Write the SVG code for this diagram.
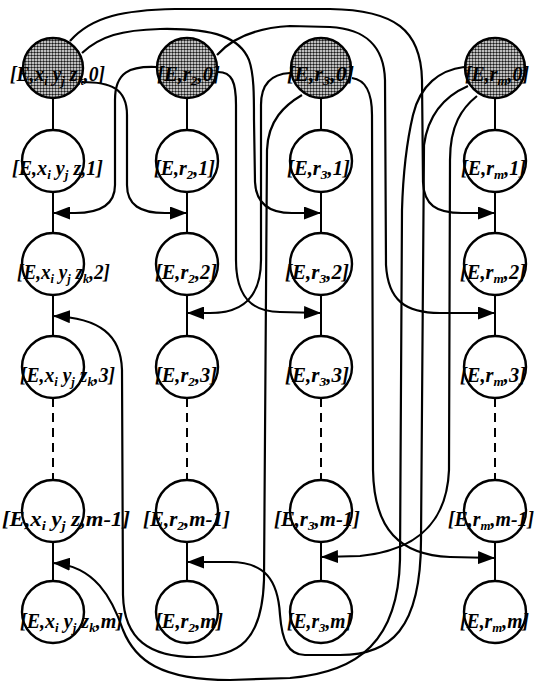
<svg xmlns="http://www.w3.org/2000/svg" width="537" height="682" viewBox="0 0 537 682">
  <style>
    .node { fill: #fff; stroke: #000; stroke-width: 2.4; }
    .seed { fill: url(#stipple); stroke: #000; stroke-width: 2.4; }
    .chain { stroke: #000; stroke-width: 2; fill: none; }
    .gap { stroke: #000; stroke-width: 2; fill: none; stroke-dasharray: 9 6; }
    .link { stroke: #000; stroke-width: 2.2; fill: none; marker-end: url(#ah); }
    text { font-family: "Liberation Serif", "DejaVu Serif", serif; font-style: italic; font-weight: bold; font-size: 20px; fill: #000; }
    .sb { font-size: 13px; }
  </style>
  <defs>
    <pattern id="stipple" width="3" height="3" patternUnits="userSpaceOnUse">
      <rect width="3" height="3" fill="#fff"/>
      <circle cx="1.5" cy="1.5" r="1.25" fill="#1a1a1a"/>
    </pattern>
    <marker id="ah" viewBox="0 0 17 13" refX="17" refY="6.5" markerWidth="17" markerHeight="13" markerUnits="userSpaceOnUse" orient="auto">
      <path d="M0,0 L17,6.5 L0,13 z" fill="#000"/>
    </marker>
  </defs>

  <!-- vertical chains of each column -->
  <g id="chains">
    <path class="chain" d="M53,99 V130 M53,192 V233 M53,295 V336 M53,542 V581"/>
    <path class="gap" d="M53,398 V480"/>
    <path class="chain" d="M187,99 V130 M187,192 V233 M187,295 V336 M187,542 V581"/>
    <path class="gap" d="M187,398 V480"/>
    <path class="chain" d="M321,99 V130 M321,192 V233 M321,295 V336 M321,542 V581"/>
    <path class="gap" d="M321,398 V480"/>
    <path class="chain" d="M495,99 V130 M495,192 V233 M495,295 V336 M495,542 V581"/>
    <path class="gap" d="M495,398 V480"/>
  </g>

  <!-- connectors from the seed nodes into other columns -->
  <g id="connectors">
    <!-- from [E,x y z,0] -->
    <path class="link" d="M70,41 C 92,16 125,10 175,9 L 330,9 C 395,10 421,30 422,80 L 423,182 C 424,205 436,213 462,213 L 495,213"/>
    <path class="link" d="M82,53 C 100,36 122,30 160,29 C 215,28 240,38 249,60 C 254,74 254,95 254,120 L 255,182 C 256,203 268,213 292,213 L 321,213"/>
    <path class="link" d="M82,82 C 110,82 127,88 127,115 L 127,185 C 127,205 140,213 165,213 L 187,213"/>
    <!-- from [E,r2,0] -->
    <path class="link" d="M156,67 C 130,66 115,72 115,100 L 115,185 C 115,205 100,213 75,213 L 53,213"/>
    <path class="link" d="M218,72 C 232,72 236,82 236,105 L 236,260 C 236,295 250,312 280,312 L 321,313"/>
    <path class="link" d="M217,55 C 232,38 255,28 290,26 L 330,27 C 365,29 384,45 385,80 L 386,265 C 388,300 405,313 440,313 L 495,313"/>
    <!-- from [E,r3,0] -->
    <path class="link" d="M290,73 C 270,74 261,85 261,105 L 261,260 C 261,300 240,313 210,313 L 187,313"/>
    <path class="link" d="M302,95 C 285,105 268,120 267,150 L 264,580 C 262,640 240,657 195,657 C 150,657 124,640 123,595 L 122,370 C 121,335 100,318 53,316"/>
    <path class="link" d="M352,78 C 366,80 372,92 372,115 L 373,470 C 374,530 400,555 450,557 L 495,558"/>
    <!-- from [E,rm,0] -->
    <path class="link" d="M464,67 C 440,70 420,85 413,115 C 406,145 403,175 402,210 L 400,560 C 398,640 360,672 290,678 L 230,680 C 160,680 135,660 123,630 C 112,598 95,566 53,563"/>
    <path class="link" d="M468,86 C 445,96 428,115 424,145 L 421,540 C 421,630 390,655 340,655 L 305,655 C 288,655 282,640 280,615 C 278,580 265,562 230,562 L 187,562"/>
    <path class="link" d="M477,96 C 462,108 450,125 450,160 L 449,470 C 447,520 420,550 360,556 L 321,557"/>
  </g>

  <!-- row 0 : seed nodes -->
  <g id="n-x-0"><circle class="seed" cx="53" cy="68" r="30"/>
    <text x="10" y="81" textLength="95" lengthAdjust="spacingAndGlyphs">[E,x<tspan class="sb" dy="4">i</tspan><tspan dy="-4"> y</tspan><tspan class="sb" dy="4">j</tspan><tspan dy="-4"> z</tspan><tspan class="sb" dy="4">k</tspan><tspan dy="-4">,0]</tspan></text></g>
  <g id="n-r2-0"><circle class="seed" cx="187" cy="68" r="30"/>
    <text x="157" y="81" textLength="63" lengthAdjust="spacingAndGlyphs">[E,r<tspan class="sb" dy="4">2</tspan><tspan dy="-4">,0]</tspan></text></g>
  <g id="n-r3-0"><circle class="seed" cx="321" cy="68" r="30"/>
    <text x="287" y="81" textLength="67" lengthAdjust="spacingAndGlyphs">[E,r<tspan class="sb" dy="4">3</tspan><tspan dy="-4">,0]</tspan></text></g>
  <g id="n-rm-0"><circle class="seed" cx="495" cy="68" r="30"/>
    <text x="465" y="81" textLength="64" lengthAdjust="spacingAndGlyphs">[E,r<tspan class="sb" dy="4">m</tspan><tspan dy="-4">,0]</tspan></text></g>

  <!-- row 1 -->
  <g id="n-x-1"><circle class="node" cx="53" cy="161" r="31"/>
    <text x="12" y="175" textLength="91" lengthAdjust="spacingAndGlyphs">[E,x<tspan class="sb" dy="4">i</tspan><tspan dy="-4"> y</tspan><tspan class="sb" dy="4">j</tspan><tspan dy="-4"> z,1]</tspan></text></g>
  <g id="n-r2-1"><circle class="node" cx="187" cy="161" r="31"/>
    <text x="154" y="175" textLength="61" lengthAdjust="spacingAndGlyphs">[E,r<tspan class="sb" dy="4">2</tspan><tspan dy="-4">,1]</tspan></text></g>
  <g id="n-r3-1"><circle class="node" cx="321" cy="161" r="31"/>
    <text x="287" y="175" textLength="63" lengthAdjust="spacingAndGlyphs">[E,r<tspan class="sb" dy="4">3</tspan><tspan dy="-4">,1]</tspan></text></g>
  <g id="n-rm-1"><circle class="node" cx="495" cy="161" r="31"/>
    <text x="461" y="175" textLength="65" lengthAdjust="spacingAndGlyphs">[E,r<tspan class="sb" dy="4">m</tspan><tspan dy="-4">,1]</tspan></text></g>

  <!-- row 2 -->
  <g id="n-x-2"><circle class="node" cx="53" cy="264" r="31"/>
    <text x="17" y="279" textLength="93" lengthAdjust="spacingAndGlyphs">[E,x<tspan class="sb" dy="4">i</tspan><tspan dy="-4"> y</tspan><tspan class="sb" dy="4">j</tspan><tspan dy="-4"> z</tspan><tspan class="sb" dy="4">k</tspan><tspan dy="-4">,2]</tspan></text></g>
  <g id="n-r2-2"><circle class="node" cx="187" cy="264" r="31"/>
    <text x="155" y="279" textLength="62" lengthAdjust="spacingAndGlyphs">[E,r<tspan class="sb" dy="4">2</tspan><tspan dy="-4">,2]</tspan></text></g>
  <g id="n-r3-2"><circle class="node" cx="321" cy="264" r="31"/>
    <text x="285" y="279" textLength="64" lengthAdjust="spacingAndGlyphs">[E,r<tspan class="sb" dy="4">3</tspan><tspan dy="-4">,2]</tspan></text></g>
  <g id="n-rm-2"><circle class="node" cx="495" cy="264" r="31"/>
    <text x="460" y="279" textLength="66" lengthAdjust="spacingAndGlyphs">[E,r<tspan class="sb" dy="4">m</tspan><tspan dy="-4">,2]</tspan></text></g>

  <!-- row 3 -->
  <g id="n-x-3"><circle class="node" cx="53" cy="367" r="31"/>
    <text x="20" y="382" textLength="95" lengthAdjust="spacingAndGlyphs">[E,x<tspan class="sb" dy="4">i</tspan><tspan dy="-4"> y</tspan><tspan class="sb" dy="4">j</tspan><tspan dy="-4"> z</tspan><tspan class="sb" dy="4">k</tspan><tspan dy="-4">,3]</tspan></text></g>
  <g id="n-r2-3"><circle class="node" cx="187" cy="367" r="31"/>
    <text x="155" y="382" textLength="62" lengthAdjust="spacingAndGlyphs">[E,r<tspan class="sb" dy="4">2</tspan><tspan dy="-4">,3]</tspan></text></g>
  <g id="n-r3-3"><circle class="node" cx="321" cy="367" r="31"/>
    <text x="285" y="382" textLength="64" lengthAdjust="spacingAndGlyphs">[E,r<tspan class="sb" dy="4">3</tspan><tspan dy="-4">,3]</tspan></text></g>
  <g id="n-rm-3"><circle class="node" cx="495" cy="367" r="31"/>
    <text x="460" y="382" textLength="66" lengthAdjust="spacingAndGlyphs">[E,r<tspan class="sb" dy="4">m</tspan><tspan dy="-4">,3]</tspan></text></g>

  <!-- row m-1 -->
  <g id="n-x-m1"><circle class="node" cx="53" cy="511" r="31"/>
    <text x="2" y="526" textLength="128" lengthAdjust="spacingAndGlyphs">[E,x<tspan class="sb" dy="4">i</tspan><tspan dy="-4"> y</tspan><tspan class="sb" dy="4">j</tspan><tspan dy="-4"> z,m-1]</tspan></text></g>
  <g id="n-r2-m1"><circle class="node" cx="187" cy="511" r="31"/>
    <text x="143" y="526" textLength="87" lengthAdjust="spacingAndGlyphs">[E,r<tspan class="sb" dy="4">2</tspan><tspan dy="-4">,m-1]</tspan></text></g>
  <g id="n-r3-m1"><circle class="node" cx="321" cy="511" r="31"/>
    <text x="274" y="526" textLength="86" lengthAdjust="spacingAndGlyphs">[E,r<tspan class="sb" dy="4">3</tspan><tspan dy="-4">,m-1]</tspan></text></g>
  <g id="n-rm-m1"><circle class="node" cx="495" cy="511" r="31"/>
    <text x="448" y="526" textLength="86" lengthAdjust="spacingAndGlyphs">[E,r<tspan class="sb" dy="4">m</tspan><tspan dy="-4">,m-1]</tspan></text></g>

  <!-- row m -->
  <g id="n-x-m"><circle class="node" cx="53" cy="612" r="31"/>
    <text x="20" y="628" textLength="103" lengthAdjust="spacingAndGlyphs">[E,x<tspan class="sb" dy="4">i</tspan><tspan dy="-4"> y</tspan><tspan class="sb" dy="4">j</tspan><tspan dy="-4"> z</tspan><tspan class="sb" dy="4">k</tspan><tspan dy="-4">,m]</tspan></text></g>
  <g id="n-r2-m"><circle class="node" cx="187" cy="612" r="31"/>
    <text x="155" y="628" textLength="68" lengthAdjust="spacingAndGlyphs">[E,r<tspan class="sb" dy="4">2</tspan><tspan dy="-4">,m]</tspan></text></g>
  <g id="n-r3-m"><circle class="node" cx="321" cy="612" r="31"/>
    <text x="287" y="628" textLength="65" lengthAdjust="spacingAndGlyphs">[E,r<tspan class="sb" dy="4">3</tspan><tspan dy="-4">,m]</tspan></text></g>
  <g id="n-rm-m"><circle class="node" cx="495" cy="612" r="31"/>
    <text x="460" y="628" textLength="69" lengthAdjust="spacingAndGlyphs">[E,r<tspan class="sb" dy="4">m</tspan><tspan dy="-4">,m]</tspan></text></g>
</svg>
